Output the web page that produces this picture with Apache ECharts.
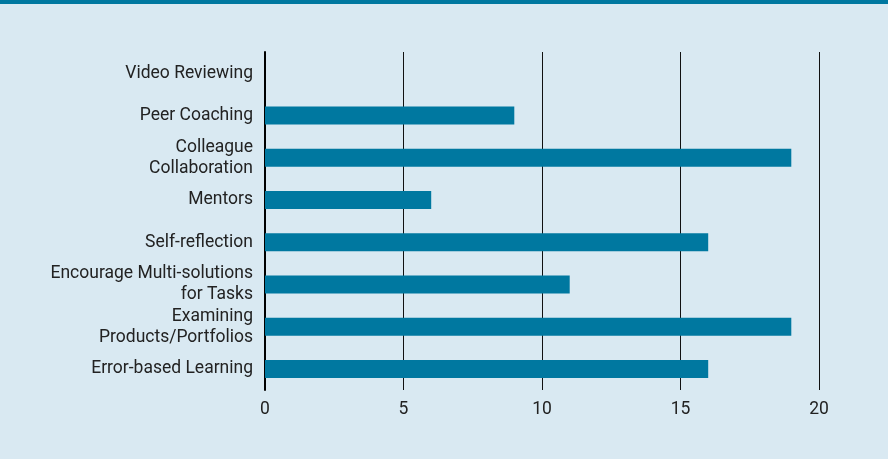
<!DOCTYPE html>
<html>
<head>
<meta charset="utf-8">
<script src="https://cdn.jsdelivr.net/npm/echarts@6/dist/echarts.min.js"></script>
<style>
  html, body { margin: 0; padding: 0; background: #d9e9f2; }
  #topbar { height: 4px; background: #0078a0; }
  #chart { width: 888px; height: 455px; }
</style>
</head>
<body>
<div id="topbar"></div>
<div id="chart"></div>
<script>
var categories = [
  "Video Reviewing",
  "Peer Coaching",
  "Colleague\nCollaboration",
  "Mentors",
  "Self-reflection",
  "Encourage Multi-solutions\nfor Tasks",
  "Examining\nProducts/Portfolios",
  "Error-based Learning"
];
var values = [0, 9, 19, 6, 16, 11, 19, 16];
var xTicks = [0, 5, 10, 15, 20];

var chart = echarts.init(document.getElementById("chart"));
chart.setOption({
  backgroundColor: "#d9e9f2",
  animation: false,
  grid: { left: 265, right: 69, top: 48, bottom: 69 },
  xAxis: {
    type: "value",
    min: xTicks[0],
    max: xTicks[xTicks.length - 1],
    interval: 5,
    axisLine: { show: false },
    axisTick: { show: false },
    splitLine: { show: true, lineStyle: { color: "#111", width: 1 } },
    axisLabel: { color: "#222", fontSize: 17.5, fontFamily: "Roboto", margin: 11 }
  },
  yAxis: {
    type: "category",
    inverse: true,
    data: categories,
    axisLine: { show: true, lineStyle: { color: "#000", width: 2 } },
    axisTick: { show: false },
    axisLabel: {
      color: "#222",
      fontSize: 17.5,
      fontFamily: "Roboto",
      margin: 12,
      lineHeight: 21,
      align: "right"
    }
  },
  series: [{
    type: "bar",
    data: values,
    barWidth: 18,
    itemStyle: { color: "#0078a0" }
  }]
});
</script>
</body>
</html>
